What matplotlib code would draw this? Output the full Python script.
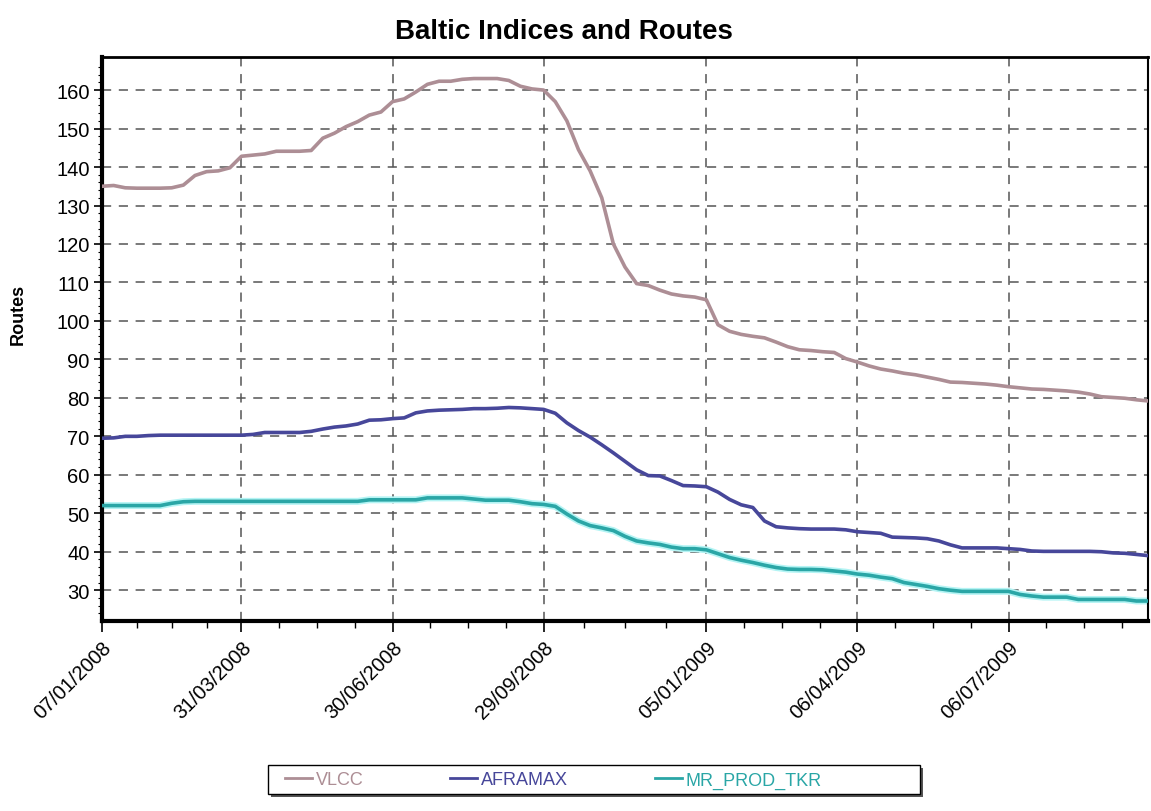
import numpy as np
import pandas as pd
import matplotlib
matplotlib.use("Agg")
import matplotlib.pyplot as plt
import matplotlib.dates as mdates
from matplotlib.patches import Rectangle

plt.rcParams['font.family'] = ['Liberation Sans', 'DejaVu Sans']

# weekly fixings, Monday 07/01/2008 onwards
start_date = "2008-01-07"

vlcc = [135.0, 135.2, 134.6, 134.5, 134.5, 134.5, 134.6, 135.3, 137.8, 138.8,
        139.0, 139.8, 142.8, 143.1, 143.4, 144.1, 144.1, 144.1, 144.3, 147.5,
        148.8, 150.5, 151.8, 153.5, 154.3, 157.0, 157.7, 159.5, 161.5, 162.3,
        162.3, 162.8, 163.0, 163.0, 163.0, 162.5, 161.0, 160.3, 160.0, 157.0,
        152.0, 144.5, 139.0, 132.0, 120.0, 114.0, 109.7, 109.2, 108.0, 107.0,
        106.5, 106.2, 105.5, 99.0, 97.3, 96.5, 96.0, 95.6, 94.5, 93.3,
        92.5, 92.3, 92.0, 91.8, 90.2, 89.3, 88.3, 87.5, 87.0, 86.4,
        86.0, 85.4, 84.8, 84.1, 84.0, 83.8, 83.6, 83.3, 82.9, 82.6,
        82.3, 82.2, 82.0, 81.8, 81.5, 81.0, 80.3, 80.1, 79.9, 79.5,
        79.2]

aframax = [69.5, 69.6, 70.0, 70.0, 70.2, 70.3, 70.3, 70.3, 70.3, 70.3,
           70.3, 70.3, 70.3, 70.5, 71.0, 71.0, 71.0, 71.0, 71.3, 71.9,
           72.4, 72.7, 73.2, 74.2, 74.3, 74.6, 74.8, 76.1, 76.6, 76.8,
           76.9, 77.0, 77.2, 77.2, 77.3, 77.5, 77.4, 77.2, 77.0, 76.0,
           73.5, 71.5, 69.8, 67.8, 65.7, 63.5, 61.3, 59.8, 59.7, 58.5,
           57.2, 57.1, 56.9, 55.5, 53.6, 52.2, 51.5, 48.0, 46.5, 46.2,
           46.0, 45.9, 45.9, 45.9, 45.7, 45.2, 45.0, 44.8, 43.8, 43.7,
           43.6, 43.4, 42.8, 41.8, 41.0, 41.0, 41.0, 41.0, 40.8, 40.6,
           40.2, 40.1, 40.1, 40.1, 40.1, 40.1, 40.0, 39.7, 39.6, 39.3,
           39.0]

mr_prod = [52.0, 52.0, 52.0, 52.0, 52.0, 52.0, 52.6, 53.0, 53.1, 53.1,
           53.1, 53.1, 53.1, 53.1, 53.1, 53.1, 53.1, 53.1, 53.1, 53.1,
           53.1, 53.1, 53.1, 53.5, 53.5, 53.5, 53.5, 53.5, 54.0, 54.0,
           54.0, 54.0, 53.7, 53.4, 53.4, 53.4, 53.0, 52.5, 52.3, 51.8,
           49.8, 48.0, 46.8, 46.2, 45.5, 44.0, 42.8, 42.3, 41.9, 41.2,
           40.8, 40.8, 40.5, 39.5, 38.5, 37.8, 37.2, 36.5, 35.9, 35.5,
           35.4, 35.4, 35.3, 35.0, 34.7, 34.2, 33.9, 33.4, 33.0, 32.0,
           31.5, 31.0, 30.4, 30.0, 29.7, 29.7, 29.7, 29.7, 29.7, 28.9,
           28.5, 28.2, 28.2, 28.2, 27.6, 27.6, 27.6, 27.6, 27.6, 27.2,
           27.2]

series_names = ["VLCC", "AFRAMAX", "MR_PROD_TKR"]
tick_dates = ["2008-01-07", "2008-03-31", "2008-06-30", "2008-09-29",
              "2009-01-05", "2009-04-06", "2009-07-06"]
y_ticks = list(range(30, 161, 10))

dates = pd.date_range(start_date, periods=len(vlcc), freq="7D")

W, H = 1151, 812
fig = plt.figure(figsize=(W / 100, H / 100), dpi=100)
ax = fig.add_axes([102 / W, 190 / H, 1046 / W, 564 / H])

ax.plot(dates, vlcc, color="#ad8e95", lw=2.6, label=series_names[0], zorder=3)
ax.plot(dates, aframax, color="#47479a", lw=2.6, label=series_names[1], zorder=3)
# MR line has a light cyan halo in the original
ax.plot(dates, mr_prod, color="#b4f4f4", lw=5, zorder=2)
ax.plot(dates, mr_prod, color="#2aa6a6", lw=2.6, label=series_names[2], zorder=3)

ax.set_xlim(dates[0], dates[-1])
ax.set_ylim(22, 168.6)

major = mdates.date2num(pd.to_datetime(tick_dates))
ax.set_xticks(major)
ax.xaxis.set_major_formatter(mdates.DateFormatter("%d/%m/%Y"))
minor = []
for a, b in zip(major[:-1], major[1:]):
    minor += list(np.linspace(a, b, 5)[1:-1])
step = (major[-1] - major[-2]) / 4
m = major[-1] + step
while m < mdates.date2num(dates[-1]):
    minor.append(m)
    m += step
ax.set_xticks(minor, minor=True)

ax.set_yticks(y_ticks)
ax.set_yticks(np.arange(24, 168, 2), minor=True)

for lab in ax.get_xticklabels():
    lab.set_rotation(45)
    lab.set_ha("right")
    lab.set_va("top")
    lab.set_rotation_mode("anchor")
ax.tick_params(axis="x", which="major", labelsize=14.5, length=8, width=1.2, pad=4)
ax.tick_params(axis="x", which="minor", length=5, width=1.0)
ax.tick_params(axis="y", which="major", labelsize=14.5, length=6, width=1.2, pad=3)
ax.tick_params(axis="y", which="minor", length=3, width=0.8)

ax.grid(True, which="major", color="#555555", linestyle=(0, (6, 5)), linewidth=1.1)

ax.spines["left"].set_linewidth(3)
ax.spines["bottom"].set_linewidth(3)
ax.spines["top"].set_linewidth(2)
ax.spines["right"].set_linewidth(1.5)

ax.set_ylabel("Routes", fontsize=13, fontweight="bold")
ax.yaxis.set_label_coords(-0.072, 0.545)
fig.text(0.49, 1 - 32 / H, "Baltic Indices and Routes", fontsize=20,
         fontweight="bold", ha="center", va="center")

# legend box with drop shadow, drawn in pixel positions of the original
fig.patches.append(Rectangle((271 / W, 14 / H), 652 / W, 29 / H, transform=fig.transFigure,
                             facecolor="#555555", edgecolor="none", zorder=1))
fig.patches.append(Rectangle((268 / W, 17 / H), 652 / W, 29 / H, transform=fig.transFigure,
                             facecolor="white", edgecolor="black", lw=1.0, zorder=2))

handles, labels = ax.get_legend_handles_labels()
leg = fig.legend(handles, labels, loc="center left", bbox_to_anchor=(276 / W, 31 / H),
                 ncol=3, fontsize=13, frameon=False, handlelength=1.5,
                 handletextpad=0.2, columnspacing=4.8, borderpad=0.0)
leg.set_zorder(3)
for line in leg.get_lines():
    line.set_linewidth(2.0)
for txt, line in zip(leg.get_texts(), leg.get_lines()):
    txt.set_color(line.get_color())

fig.savefig("out.png", dpi=100)
